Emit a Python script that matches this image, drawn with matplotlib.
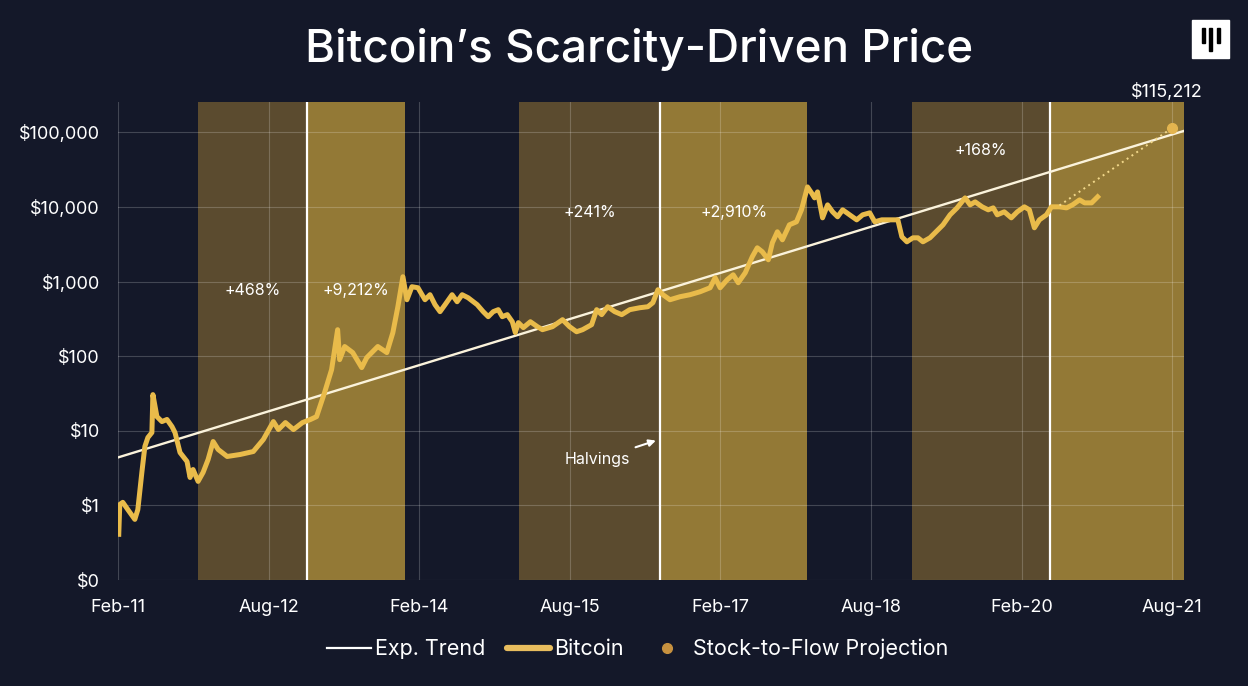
import numpy as np
import matplotlib
matplotlib.use("Agg")
import matplotlib.pyplot as plt
from matplotlib.lines import Line2D
from matplotlib.patches import Rectangle

# --- data (dates as decimal years) ---
btc_years = [
    2011.09, 2011.10, 2011.13, 2011.18, 2011.25, 2011.28, 2011.32, 2011.35, 2011.38, 2011.42,
    2011.43, 2011.47, 2011.52, 2011.57, 2011.62, 2011.65, 2011.70, 2011.77, 2011.80, 2011.83,
    2011.88, 2011.93, 2011.98, 2012.03, 2012.08, 2012.17, 2012.30, 2012.43, 2012.53, 2012.63,
    2012.68, 2012.75, 2012.83, 2012.92, 2013.00, 2013.06, 2013.14, 2013.21, 2013.27, 2013.29,
    2013.34, 2013.42, 2013.51, 2013.56, 2013.67, 2013.76, 2013.82, 2013.87, 2013.92, 2013.96,
    2014.01, 2014.07, 2014.14, 2014.19, 2014.24, 2014.29, 2014.34, 2014.41, 2014.46, 2014.51,
    2014.57, 2014.66, 2014.72, 2014.77, 2014.82, 2014.87, 2014.91, 2014.96, 2015.01, 2015.04,
    2015.07, 2015.12, 2015.19, 2015.26, 2015.31, 2015.41, 2015.51, 2015.58, 2015.65, 2015.71,
    2015.80, 2015.85, 2015.90, 2015.96, 2016.03, 2016.10, 2016.18, 2016.28, 2016.36, 2016.41,
    2016.46, 2016.51, 2016.58, 2016.68, 2016.78, 2016.88, 2016.98, 2017.03, 2017.08, 2017.15,
    2017.21, 2017.26, 2017.33, 2017.40, 2017.45, 2017.50, 2017.56, 2017.60, 2017.65, 2017.70,
    2017.77, 2017.84, 2017.89, 2017.95, 2017.99, 2018.02, 2018.05, 2018.10, 2018.15, 2018.20,
    2018.25, 2018.30, 2018.37, 2018.44, 2018.50, 2018.57, 2018.62, 2018.69, 2018.77, 2018.85,
    2018.89, 2018.94, 2019.00, 2019.05, 2019.10, 2019.17, 2019.25, 2019.30, 2019.37, 2019.44,
    2019.52, 2019.57, 2019.62, 2019.69, 2019.75, 2019.80, 2019.84, 2019.91, 2019.98, 2020.04,
    2020.11, 2020.16, 2020.21, 2020.26, 2020.33, 2020.38, 2020.46, 2020.53, 2020.59, 2020.66,
    2020.71, 2020.78, 2020.84,
]
btc_prices = [
    0.41, 1.03, 1.10, 0.88, 0.65, 0.88, 2.77, 6.17, 8.13, 9.49,
    30.6, 15.5, 13.3, 14.2, 11.4, 9.49, 5.12, 3.88, 2.37, 3.03,
    2.10, 2.77, 4.13, 7.19, 5.62, 4.53, 4.82, 5.28, 7.65, 13.3,
    10.4, 12.9, 10.4, 12.9, 14.2, 15.5, 32.6, 66.2, 227, 90,
    135, 112, 70.4, 95.8, 135, 112, 207, 461, 1164, 572,
    855, 828, 572, 668, 491, 396, 491, 668, 538, 668,
    608, 491, 396, 339, 396, 421, 339, 361, 290, 207,
    282, 242, 290, 249, 227, 249, 309, 249, 213, 227,
    265, 421, 361, 461, 396, 361, 421, 447, 461, 522,
    779, 668, 572, 628, 668, 732, 828, 1128, 828, 1060,
    1237, 967, 1315, 2155, 2843, 2514, 1963, 3318, 4660, 3638,
    5780, 6340, 9180, 18630, 15490, 13280, 15960, 7170, 10700, 8630,
    7400, 9180, 7870, 6740, 7870, 8360, 6340, 6740, 6740, 6740,
    3990, 3420, 3870, 3870, 3420, 3870, 4950, 5780, 7870, 9750,
    13280, 10700, 11740, 10070, 9180, 9750, 7870, 8630, 7170, 8630,
    10070, 9180, 5270, 6740, 7870, 10070, 10070, 9750, 10700, 12480,
    11380, 11380, 13700,
]

trend_years = [2011.083, 2021.70]
trend_prices = [4.4, 105000]

s2f_year = 2021.583
s2f_price = 115212
s2f_start_year = 2020.46
s2f_start_price = 10500

# pre-halving run-up start, halving date, cycle peak
cycle_start = [2011.88, 2015.075, 2018.99]
halvings = [2012.965, 2016.48, 2020.37]
cycle_end = [2013.94, 2017.95, 2021.70]
pre_gain = ["+468%", "+241%", "+168%"]
post_gain = ["+9,212%", "+2,910%", None]
gain_level = [755, 8360, 56500]

x_ticks = [2011.083, 2012.583, 2014.083, 2015.583, 2017.083, 2018.583, 2020.083, 2021.583]
x_labels = ["Feb-11", "Aug-12", "Feb-14", "Aug-15", "Feb-17", "Aug-18", "Feb-20", "Aug-21"]
y_ticks = [0.1, 1, 10, 100, 1000, 10000, 100000]
y_labels = ["$0", "$1", "$10", "$100", "$1,000", "$10,000", "$100,000"]

bg = "#141829"
dark_band = "#5b4b2f"
bright_band = "#937936"
gold = "#e9bb4a"
cream = "#fbf3dc"

plt.rcParams["font.family"] = ["Inter", "DejaVu Sans"]

fig = plt.figure(figsize=(12.48, 6.86), dpi=100, facecolor=bg)
ax = fig.add_axes([0.0946, 0.1545, 0.8541, 0.6968])
ax.set_facecolor(bg)
ax.set_yscale("log")
ax.set_xlim(2011.083, 2021.70)
ax.set_ylim(0.1, 2.56e5)

for a, h, b in zip(cycle_start, halvings, cycle_end):
    ax.axvspan(a, h, color=dark_band, lw=0, zorder=0.5)
    ax.axvspan(h, b, color=bright_band, lw=0, zorder=0.5)
    ax.axvline(h, color="white", lw=1.6, zorder=2)

ax.set_axisbelow("line")
ax.grid(True, which="major", color="white", alpha=0.2, lw=0.8)
ax.minorticks_off()
ax.set_xticks(x_ticks)
ax.set_xticklabels(x_labels)
ax.set_yticks(y_ticks)
ax.set_yticklabels(y_labels)
ax.tick_params(axis="both", length=0, colors="white", labelsize=13)
ax.tick_params(axis="x", pad=14)
ax.tick_params(axis="y", pad=13)
for sp in ax.spines.values():
    sp.set_visible(False)

ax.plot(trend_years, trend_prices, color=cream, lw=1.7, zorder=3)
ax.plot(btc_years, btc_prices, color=gold, lw=3.6, solid_joinstyle="round", zorder=4)
ax.plot([s2f_start_year, s2f_year], [s2f_start_price, s2f_price], color="#f3d98b",
        lw=1.4, ls=(0, (1, 2)), zorder=4)
ax.plot([s2f_year], [s2f_price], "o", color="#e4b54f", ms=7, zorder=5)
ax.annotate("$115,212", (s2f_year, s2f_price), xytext=(-4, 26), textcoords="offset points",
            ha="center", va="center", color="white", fontsize=13)

for a, h, b, g1, g2, lv in zip(cycle_start, halvings, cycle_end, pre_gain, post_gain, gain_level):
    ax.text((a + h) / 2, lv, g1, ha="center", va="center", color="white", fontsize=11.5)
    if g2:
        ax.text((h + b) / 2, lv, g2, ha="center", va="center", color="white", fontsize=11.5)

ax.annotate("Halvings", xy=(halvings[1] - 0.04, 7.4), xytext=(2015.86, 4.1),
            ha="center", va="center", color="white", fontsize=11.5,
            arrowprops=dict(arrowstyle="-|>", color="white", lw=1.5, mutation_scale=10,
                            shrinkA=5, shrinkB=0))

fig.text(0.512, 1 - 62 / 686, "Bitcoin\u2019s Scarcity-Driven Price", ha="center", va="baseline",
         color="white", fontsize=33, fontweight="medium")

# logo
fig.patches.append(Rectangle((1192 / 1248, 1 - 58 / 686), 37 / 1248, 38 / 686,
                             transform=fig.transFigure, color="white"))
for bx, top, bot in [(1202, 28, 43), (1209, 28, 51), (1217, 28, 43)]:
    fig.patches.append(Rectangle((bx / 1248, 1 - bot / 686), 3 / 1248, (bot - top) / 686,
                                 transform=fig.transFigure, color="black"))

handles = [
    Line2D([], [], color="white", lw=1.6),
    Line2D([], [], color="#e8bd5e", lw=4.5, solid_capstyle="round"),
    Line2D([], [], marker="o", ls="none", color="#c7913f", ms=7),
]
leg = fig.legend(handles, ["Exp. Trend", "Bitcoin", "Stock-to-Flow Projection"],
                 loc="center", bbox_to_anchor=(0.511, 0.054), ncol=3, frameon=False,
                 fontsize=15.5, handlelength=2.0, handletextpad=0.2, columnspacing=1.0)
for t in leg.get_texts():
    t.set_color("white")

fig.savefig("out.png", dpi=100, facecolor=bg)
